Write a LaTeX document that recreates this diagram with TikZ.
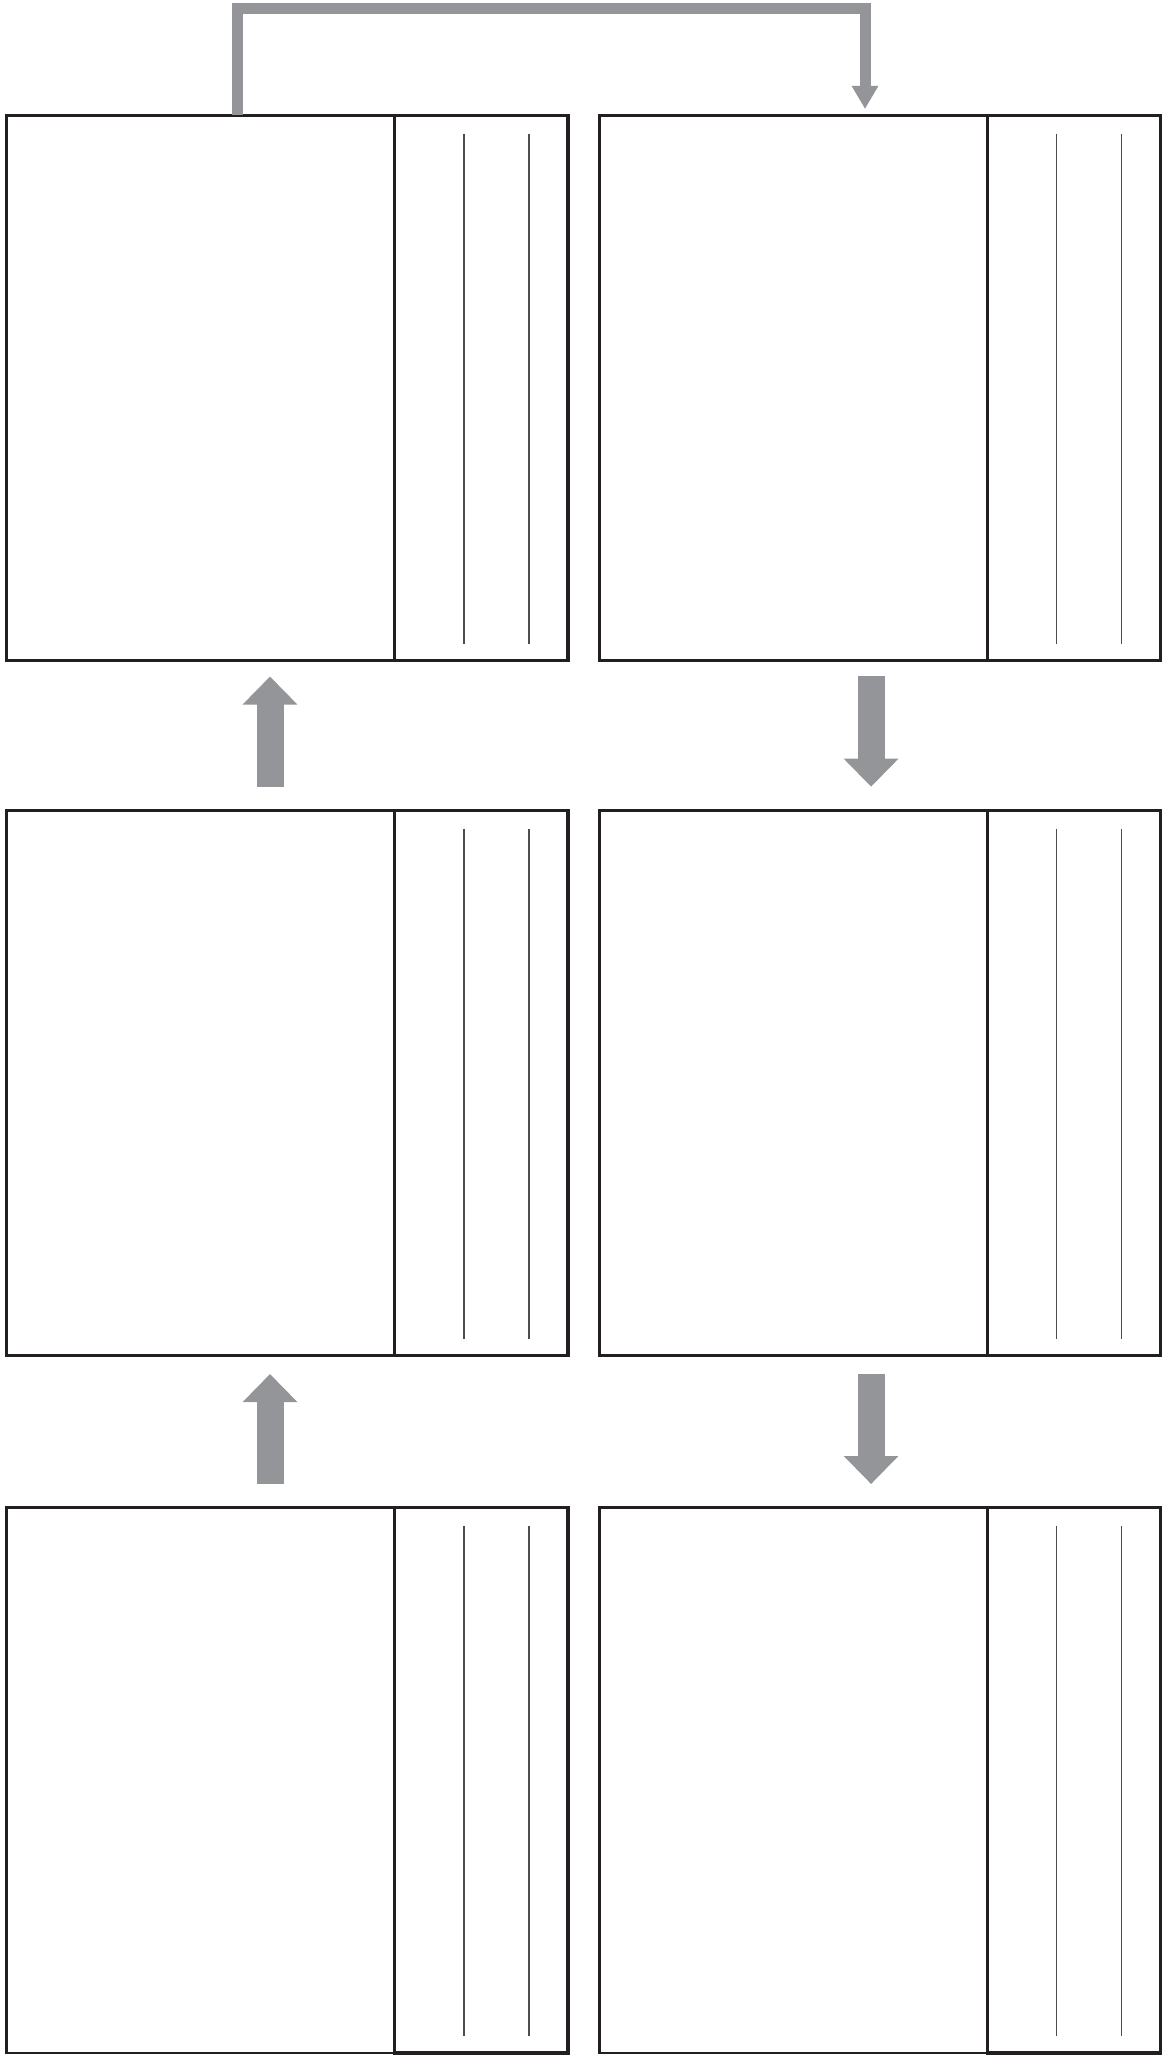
\documentclass[tikz,border=0pt]{standalone}
\usepackage{tikz}
\usetikzlibrary{arrows.meta,positioning,calc}
\definecolor{cyclegray}{HTML}{939598}
\definecolor{cycledark}{HTML}{231F20}
\definecolor{cyclerule}{HTML}{4D4D4F}
\tikzset{
  panelbox/.style={draw=cycledark,line width=2.6pt,minimum width=561.3pt,minimum height=545.3pt,
                   inner sep=0pt,outer sep=0pt,anchor=north west},
  tabbox/.style={draw=cycledark,line width=3.4pt,minimum width=173.2pt,minimum height=545.3pt,
                 inner sep=0pt,outer sep=0pt,anchor=north east},
  rulestrip/.style={draw=cyclerule,line width=1.3pt},
  stepflow/.style={-{Triangle[width=53pt,length=28pt]},line width=27pt,draw=cyclegray},
  loopflow/.style={-{Triangle[width=25pt,length=23pt]},line width=11pt,draw=cyclegray,line join=miter}
}
\begin{document}
\begin{tikzpicture}[x=1pt,y=-1pt]
    \useasboundingbox (0,0) rectangle (1172,2055);

    \node[panelbox] (left1) at (6.5,115.4) {};
    \node[panelbox,below=149.7pt of left1] (left2) {};
    \node[panelbox,below=152pt of left2] (left3) {};
    \node[panelbox,right=31.5pt of left1] (right1) {};
    \node[panelbox,right=31.5pt of left2] (right2) {};
    \node[panelbox,right=31.5pt of left3] (right3) {};

    \foreach \p in {left1,left2,left3,right1,right2,right3} {
      \node[tabbox] (tab\p) at (\p.north east) {};
      \draw[rulestrip] ($(tab\p.north west)+(69.4,18.3)$) -- ($(tab\p.south west)+(69.4,-17)$);
      \draw[rulestrip] ($(tab\p.north west)+(134.4,18.3)$) -- ($(tab\p.south west)+(134.4,-17)$);
    }

    \coordinate (loopstart) at ($(left1.north west)+(230.7,0)$);
    \coordinate (loopend) at ($(right1.north west)+(265.7,-6.4)$);
    \draw[loopflow] (loopstart) -- ++(0,-107) -| (loopend);

    \draw[stepflow] ($(left2.north west)+(263.5,-23.8)$) -- ($(left1.south west)+(263.5,15.8)$);
    \draw[stepflow] ($(left3.north west)+(263.5,-23.7)$) -- ($(left2.south west)+(263.5,18.3)$);
    \draw[stepflow] ($(right1.south west)+(271.8,15)$) -- ($(right2.north west)+(271.8,-23.7)$);
    \draw[stepflow] ($(right2.south west)+(271.8,18.3)$) -- ($(right3.north west)+(271.8,-23.7)$);
  \end{tikzpicture}
\end{document}
